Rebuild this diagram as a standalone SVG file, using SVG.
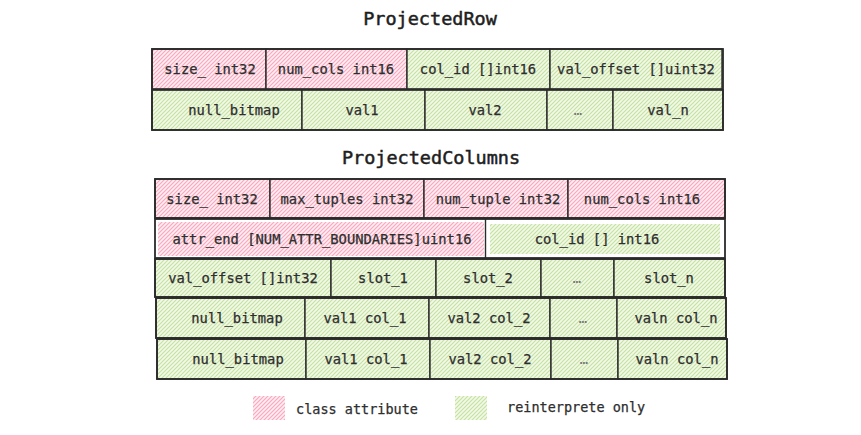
<svg xmlns="http://www.w3.org/2000/svg" width="861" height="435" viewBox="0 0 861 435">
<defs>
<pattern id="pink" patternUnits="userSpaceOnUse" width="4" height="4">
<rect width="4" height="4" fill="#ffeef2"/>
<path d="M-1,1 l2,-2 M0,4 l4,-4 M3,5 l2,-2" stroke="#f7a9c1" stroke-width="1.2"/>
</pattern>
<pattern id="green" patternUnits="userSpaceOnUse" width="4" height="4">
<rect width="4" height="4" fill="#f3f9ea"/>
<path d="M-1,1 l2,-2 M0,4 l4,-4 M3,5 l2,-2" stroke="#c6e3a0" stroke-width="1.2"/>
</pattern>
<style>
.p{fill:url(#pink);stroke:#2b2b2b;stroke-width:1.4}
.g{fill:url(#green);stroke:#2b2b2b;stroke-width:1.4}
.pn{fill:url(#pink);stroke:none}
.gn{fill:url(#green);stroke:none}
.box{fill:none;stroke:#2b2b2b;stroke-width:1.8}
text{font-family:"DejaVu Sans Mono","Liberation Mono",monospace;font-size:13.8px;fill:#2e2e2e;stroke:#2e2e2e;stroke-width:0.25;text-anchor:middle;dominant-baseline:central}
.t{font-size:18.5px;fill:#1e1e1e;stroke:#1e1e1e;stroke-width:0.5}
.l{font-size:13.5px;text-anchor:start}
.d{fill:#777;stroke:none}
</style>
</defs>
<rect width="861" height="435" fill="#ffffff"/>

<g id="title-row"><text class="t" x="430" y="18">ProjectedRow</text></g>
<g id="title-cols"><text class="t" x="431" y="157">ProjectedColumns</text></g>

<!-- ProjectedRow row 1 -->
<g id="pr-size"><rect class="p" x="152" y="49" width="114" height="40"/><text x="210" y="69">size_ int32</text></g>
<g id="pr-numcols"><rect class="p" x="266" y="49" width="141" height="40"/><text x="336" y="69">num_cols int16</text></g>
<g id="pr-colid"><rect class="g" x="407" y="49" width="143" height="40"/><text x="478" y="69">col_id []int16</text></g>
<g id="pr-valoffset"><rect class="g" x="550" y="49" width="172" height="40"/><text x="636" y="69">val_offset []uint32</text></g>
<!-- ProjectedRow row 2 -->
<g id="pr-nullbitmap"><rect class="g" x="152" y="90" width="150" height="40"/><text x="234" y="110">null_bitmap</text></g>
<g id="pr-val1"><rect class="g" x="302" y="90" width="123" height="40"/><text x="362" y="110">val1</text></g>
<g id="pr-val2"><rect class="g" x="425" y="90" width="122" height="40"/><text x="485" y="110">val2</text></g>
<g id="pr-dots"><rect class="g" x="547" y="90" width="66" height="40"/><text class="d" x="578" y="110">…</text></g>
<g id="pr-valn"><rect class="g" x="613" y="90" width="110" height="40"/><text x="668" y="110">val_n</text></g>
<rect class="box" x="152" y="49" width="571" height="81"/>
<line x1="152" y1="89.5" x2="723" y2="89.5" stroke="#2b2b2b" stroke-width="1.8"/>

<!-- ProjectedColumns row A -->
<g id="pc-size"><rect class="p" x="155" y="179" width="115" height="39"/><text x="212" y="199">size_ int32</text></g>
<g id="pc-maxtuples"><rect class="p" x="270" y="179" width="154" height="39"/><text x="347" y="199">max_tuples int32</text></g>
<g id="pc-numtuple"><rect class="p" x="424" y="179" width="144" height="39"/><text x="498" y="199">num_tuple int32</text></g>
<g id="pc-numcols"><rect class="p" x="568" y="179" width="157" height="39"/><text x="642" y="199">num_cols int16</text></g>
<rect class="box" x="155" y="179" width="570" height="39"/>

<!-- row B -->
<g id="pc-rowB"><rect class="box" x="155" y="219" width="570" height="39"/></g>
<g id="pc-attrend"><rect class="pn" x="158" y="222" width="326" height="34"/><text x="322" y="239">attr_end [NUM_ATTR_BOUNDARIES]uint16</text></g>
<line x1="485.5" y1="219" x2="485.5" y2="258" stroke="#2b2b2b" stroke-width="1.4"/>
<g id="pc-colid"><rect class="gn" x="490" y="224" width="230" height="30"/><text x="597" y="239">col_id [] int16</text></g>

<!-- row C -->
<g id="pc-valoffset"><rect class="g" x="155" y="259" width="176" height="38"/><text x="243" y="278">val_offset []int32</text></g>
<g id="pc-slot1"><rect class="g" x="331" y="259" width="105" height="38"/><text x="383" y="278">slot_1</text></g>
<g id="pc-slot2"><rect class="g" x="436" y="259" width="105" height="38"/><text x="488" y="278">slot_2</text></g>
<g id="pc-slotdots"><rect class="g" x="541" y="259" width="73" height="38"/><text class="d" x="577" y="278">…</text></g>
<g id="pc-slotn"><rect class="g" x="614" y="259" width="111" height="38"/><text x="669" y="278">slot_n</text></g>
<rect class="box" x="155" y="259" width="570" height="38"/>

<!-- row D -->
<g id="pc-nullbitmap1"><rect class="g" x="156" y="298" width="149" height="40"/><text x="237" y="318">null_bitmap</text></g>
<g id="pc-val1a"><rect class="g" x="305" y="298" width="124" height="40"/><text x="365" y="318">val1 col_1</text></g>
<g id="pc-val2a"><rect class="g" x="429" y="298" width="121" height="40"/><text x="489" y="318">val2 col_2</text></g>
<g id="pc-dotsa"><rect class="g" x="550" y="298" width="67" height="40"/><text class="d" x="583" y="318">…</text></g>
<g id="pc-valna"><rect class="g" x="617" y="298" width="109" height="40"/><text x="676" y="318">valn col_n</text></g>
<rect class="box" x="156" y="298" width="570" height="40"/>

<!-- row E -->
<g id="pc-nullbitmap2"><rect class="g" x="157" y="339" width="149" height="40"/><text x="238" y="359">null_bitmap</text></g>
<g id="pc-val1b"><rect class="g" x="306" y="339" width="124" height="40"/><text x="366" y="359">val1 col_1</text></g>
<g id="pc-val2b"><rect class="g" x="430" y="339" width="121" height="40"/><text x="490" y="359">val2 col_2</text></g>
<g id="pc-dotsb"><rect class="g" x="551" y="339" width="67" height="40"/><text class="d" x="584" y="359">…</text></g>
<g id="pc-valnb"><rect class="g" x="618" y="339" width="109" height="40"/><text x="677" y="359">valn col_n</text></g>
<rect class="box" x="157" y="339" width="570" height="40"/>

<!-- legend -->
<g id="legend-class"><rect class="pn" x="253" y="396" width="32" height="24"/><text class="l" x="296" y="409">class attribute</text></g>
<g id="legend-reinterp"><rect class="gn" x="455" y="396" width="32" height="24"/><text class="l" x="507" y="407">reinterprete only</text></g>
</svg>
